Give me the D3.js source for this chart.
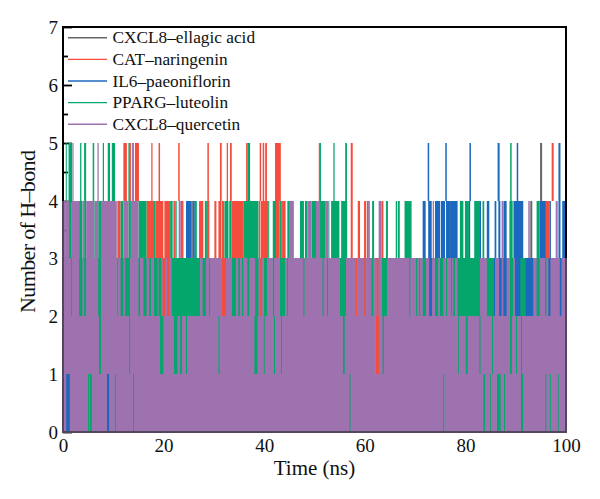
<!DOCTYPE html>
<html>
<head>
<meta charset="utf-8">
<script src="https://cdn.jsdelivr.net/npm/d3@7"></script>
<style>
html,body{margin:0;padding:0;background:#fff}
svg{display:block}
text{font-family:"Liberation Serif",serif;fill:#111}
</style>
</head>
<body>
<svg id="chart" width="600" height="499"></svg>
<script>
// Hydrogen-bond counts over simulation time. Each list holds [start, end] spans in ns
// during which a complex reaches the named bond count.
const seriesNames = ["CXCL8–ellagic acid","CAT–naringenin","IL6–paeoniflorin","PPARG–luteolin","CXCL8–quercetin"];
const seriesColors = ["#666666","#F44C3D","#1B68BE","#05A66B","#9D72AF"];
const xTicks = [0,20,40,60,80,100];
const yTicks = [0,1,2,3,4,5,6,7];
const yMinorTicks = [0.5,1.5,2.5,3.5,4.5,5.5,6.5];

const ellagic5 = [[94.85,95.25]];
const ellagic4 = [[25.5,25.8],[92.9,93.3]];

const naringenin5 = [[12.0,12.7],[13.3,13.5],[14.3,15.1],[17.55,17.8],[19.0,19.3],[22.9,23.2],[28.7,29.0],[31.2,31.55],[32.55,32.8],[33.2,33.55],[36.4,36.65],[39.1,39.4],[39.7,40.0],[40.2,40.55],[42.15,43.3],[50.85,51.1],[57.2,57.6],[97.15,97.55]];
const naringenin4 = [[10.8,11.45],[16.6,18.1],[18.4,19.95],[20.15,21.3],[21.95,22.35],[23.4,23.95],[27.05,27.9],[28.6,29.1],[30.1,30.5],[30.9,31.5],[31.6,32.05],[33.5,35.85],[38.9,39.25],[39.35,40.8],[42.35,43.1],[43.55,44.25],[57.2,57.6],[58.6,59.05],[59.85,60.25],[60.4,60.65],[63.3,63.7],[96.0,96.7]];
const naringenin3 = [[19.8,20.35],[20.75,21.15],[31.6,32.4],[39.2,39.6],[58.25,58.5],[59.9,60.25],[62.35,62.7]];
const naringenin2 = [[62.2,62.8]];

const paeoniflorin5 = [[72.5,72.8],[76.0,76.3],[80.8,81.1],[86.4,86.8],[90.2,90.5],[98.5,98.9]];
const paeoniflorin4 = [[24.45,25.5],[25.8,26.2],[71.5,72.1],[72.6,73.3],[73.95,74.95],[75.1,75.95],[76.15,76.95],[76.95,78.45],[80.7,80.95],[82.9,83.1],[84.25,84.75],[85.8,86.15],[86.55,86.95],[87.6,88.2],[89.55,91.5],[94.7,96.0],[96.7,97.0],[98.5,98.9],[99.25,100]];
const paeoniflorin3 = [[18.1,18.8],[72.8,73.35],[74.95,75.6],[85.55,85.9],[86.7,87.2],[87.55,88.2],[89.85,91.05],[91.85,93.5],[96.5,96.9],[98.75,99.1]];
const paeoniflorin1 = [[0.65,1.35],[8.75,9.2]];

const luteolin5 = [[0.55,0.75],[1.1,1.85],[3.4,3.65],[4.2,4.6],[5.9,6.2],[7.9,8.15],[8.9,9.35],[9.7,10.35],[13.0,13.3],[36.65,37.2],[51.1,51.3],[53.75,54.0],[56.1,56.45],[88.9,89.2]];
const luteolin4 = [[0.4,0.55],[1.2,1.75],[3.2,3.85],[4.2,4.6],[6.0,6.3],[7.0,7.55],[11.45,12.0],[13.0,13.5],[15.0,16.6],[18.1,18.4],[21.3,21.8],[22.35,22.6],[26.2,26.6],[28.2,28.6],[32.1,32.9],[33.05,33.5],[35.85,38.85],[40.8,41.0],[41.7,42.35],[43.15,43.5],[44.6,45.1],[47.1,47.9],[48.1,48.6],[49.45,50.3],[51.1,52.1],[52.75,52.95],[53.3,54.95],[55.3,56.5],[61.45,61.85],[64.2,64.6],[66.15,66.45],[66.6,66.95],[67.9,69.3],[78.9,79.6],[79.9,80.7],[81.75,82.9],[83.4,83.75],[88.75,89.4],[94.15,94.7]];
const luteolin3 = [[1.6,1.75],[3.2,3.85],[4.2,4.6],[7.0,7.55],[10.7,10.85],[11.45,12.0],[12.35,13.3],[15.0,15.3],[16.0,16.6],[17.15,17.5],[18.1,18.8],[19.0,19.55],[21.6,27.25],[27.75,28.4],[29.0,29.2],[33.55,34.4],[34.85,35.2],[35.55,35.85],[36.65,37.05],[38.2,38.85],[39.95,40.6],[41.7,41.95],[43.15,44.15],[44.5,44.7],[47.8,48.0],[51.6,51.8],[52.5,52.7],[55.05,56.25],[61.35,61.7],[63.4,64.45],[68.85,69.05],[70.2,70.45],[70.75,70.95],[71.5,72.15],[73.95,74.6],[75.1,75.6],[76.15,76.4],[77.15,77.35],[77.6,77.95],[78.45,82.9],[84.25,85.55],[88.85,89.5],[91.05,91.85],[94.15,94.8],[95.85,96.1]];
const luteolin2 = [[7.15,7.55],[13.1,13.3],[19.3,19.95],[22.05,22.75],[23.25,23.65],[24.45,24.65],[30.9,31.1],[38.05,38.65],[39.9,40.1],[41.95,42.15],[43.35,43.55],[55.65,56.0],[63.55,63.8],[78.5,78.7],[80.05,80.45],[82.8,83.0],[85.3,85.5],[88.85,89.25],[90.05,90.25],[91.05,91.25]];
const luteolin1 = [[4.95,5.15],[5.3,5.75],[10.3,10.5],[13.9,14.1],[56.95,57.15],[75.6,75.8],[83.6,83.9],[84.85,85.05],[86.25,87.0],[87.65,87.9],[91.05,91.45],[95.9,96.1],[96.85,97.05],[98.35,98.55]];

const quercetin5 = [[1.9,2.1],[6.85,7.1],[13.7,14.1]];
const quercetin4 = [[0,0.4],[0.55,1.2],[1.75,3.2],[3.85,4.2],[4.6,6.0],[6.3,7.0],[7.55,10.7],[12.0,13.0],[13.5,15.0],[23.0,23.4],[45.1,45.9],[48.6,49.45],[50.3,51.1],[52.1,52.75],[60.65,61.0],[62.75,63.3],[73.5,73.75],[87.2,87.6],[92.5,92.8],[97.95,98.35]];

// Levels per complex, keyed by the bond count each span climbs to.
const levels = [
  {5: ellagic5, 4: ellagic4},
  {5: naringenin5, 4: naringenin4, 3: naringenin3, 2: naringenin2},
  {5: paeoniflorin5, 4: paeoniflorin4, 3: paeoniflorin3, 1: paeoniflorin1},
  {5: luteolin5, 4: luteolin4, 3: luteolin3, 2: luteolin2, 1: luteolin1}
];

const svg = d3.select("#chart");
const plotLeft = 63, plotRight = 566, plotTop = 27, plotBottom = 432;
const x = d3.scaleLinear().domain([0,100]).range([plotLeft,plotRight]);
const y = d3.scaleLinear().domain([0,7]).rangeRound([plotBottom,plotTop]);

// Axes sit beneath the traces, so the dense region hides their inner ticks.
const yAxis = svg.append("g").attr("transform",`translate(${plotLeft},0)`)
  .call(d3.axisLeft(y).tickValues(yTicks).tickSize(-9).tickPadding(5).tickFormat(d3.format("d")));
svg.append("g").attr("transform",`translate(${plotLeft},0)`)
  .call(d3.axisLeft(y).tickValues(yMinorTicks).tickSize(-5).tickFormat(""));
const xAxis = svg.append("g").attr("transform",`translate(0,${plotBottom})`)
  .call(d3.axisBottom(x).tickValues(xTicks).tickSize(0).tickPadding(7).tickFormat(d3.format("d")));
svg.selectAll(".domain").remove();
svg.selectAll(".tick line").attr("stroke","#000").attr("stroke-width",1.8);
yAxis.selectAll("text").attr("font-size",19);
xAxis.selectAll("text").attr("font-size",19);

// Spans covered by the top trace bleed slightly past its edges so no white shows at the seams.
function drawSpans(spans, level, color, bleed = 0){
  svg.append("g").attr("fill",color).selectAll("rect").data(spans).join("rect")
    .attr("x",d=>x(d[0])-bleed).attr("width",d=>x(d[1])-x(d[0])+2*bleed)
    .attr("y",y(level)).attr("height",y(level-1)-y(level));
}

// Time left over once the listed dips are removed from the 0–100 ns run.
function remaining(dips){
  const merged = d3.sort(dips,d=>d[0]);
  const out = [];
  let cursor = 0;
  for(const [a,b] of merged){
    if(a>cursor) out.push([cursor,a]);
    cursor = Math.max(cursor,b);
  }
  if(cursor<100) out.push([cursor,100]);
  return out;
}

levels.forEach((byLevel,i)=>{
  for(const level of Object.keys(byLevel)){
    drawSpans(byLevel[level],+level,seriesColors[i],+level<=3?0.6:0);
  }
});

// The quercetin trace lies on top; it holds at three bonds apart from the dips below it.
const purple = seriesColors[4];
drawSpans(quercetin5,5,purple);
drawSpans(quercetin4,4,purple);
drawSpans(remaining([...naringenin3,...paeoniflorin3,...luteolin3]),3,purple);
drawSpans(remaining([...naringenin2,...luteolin2]),2,purple);
drawSpans(remaining([...paeoniflorin1,...luteolin1]),1,purple);

// Frame: black in the open area, muted where the traces run over it.
const frame = svg.append("g").attr("fill","none").attr("stroke-width",2);
frame.append("path").attr("stroke","#000")
  .attr("d",`M${plotLeft},${y(4)}V${plotTop}H${plotRight}V${y(3)}`);
frame.append("path").attr("stroke","#54465E")
  .attr("d",`M${plotLeft},${y(4)}V${plotBottom}H${plotRight}V${y(3)}`);

svg.append("text").attr("x",314.5).attr("y",475).attr("text-anchor","middle")
  .attr("font-size",21).text("Time (ns)");
svg.append("text").attr("transform","translate(35,313) rotate(-90)")
  .attr("font-size",22).attr("textLength",163).attr("lengthAdjust","spacing").text("Number of H–bond");

// Legend
const legendY = d3.scaleLinear().domain([0,4]).range([37.7,124.3]);
const legend = svg.append("g").selectAll("g").data(seriesNames).join("g")
  .attr("transform",(d,i)=>`translate(0,${legendY(i)})`);
legend.append("line").attr("x1",68).attr("x2",107).attr("stroke-width",1.4)
  .attr("stroke",(d,i)=>seriesColors[i]);
legend.append("text").attr("x",112.5).attr("y",5.5).attr("font-size",17.3).text(d=>d);
</script>
</body>
</html>
